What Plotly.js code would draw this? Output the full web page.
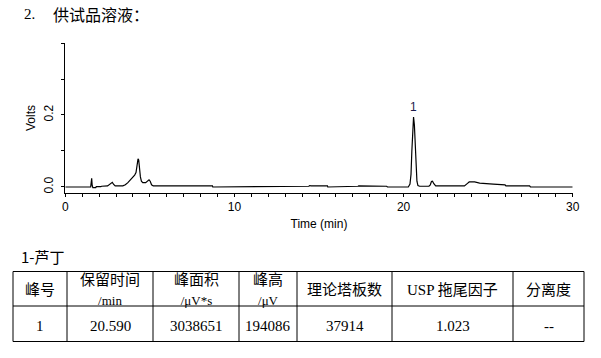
<!DOCTYPE html>
<html><head><meta charset="utf-8">
<script src="https://cdn.plot.ly/plotly-3.0.1.min.js"></script>
<style>html,body{margin:0;padding:0;background:#fff}#chart{width:601px;height:358px}</style>
</head><body><div id="chart"></div>
<script>
// ---- data ----
const timeMin = [0.00,1.50,1.53,1.56,1.59,1.63,1.80,1.83,2.10,2.15,2.50,2.60,2.70,2.78,2.86,2.95,3.40,3.55,3.70,3.85,4.00,4.10,4.18,4.24,4.30,4.34,4.38,4.44,4.50,4.58,4.75,4.85,4.95,5.02,5.10,5.20,
  8.70,8.72,10.40,10.42,10.60,10.62,10.90,10.92,11.20,11.22,12.30,12.32,14.40,14.42,14.45,14.52,15.50,15.52,16.50,16.52,17.30,17.35,17.90,17.95,18.05,18.40,18.45,18.60,18.65,19.00,19.05,19.50,19.55,19.62,19.66,
  20.28,20.38,20.44,20.49,20.54,20.59,20.64,20.69,20.74,20.79,20.85,20.95,21.50,21.58,21.65,21.71,21.79,21.90,23.60,23.70,23.78,23.88,24.20,24.50,24.90,25.30,26.00,26.05,27.45,27.50,30.00];
const volts = [0.000,0.000,0.012,0.024,0.004,-0.002,-0.002,0.001,0.001,0.002,0.003,0.006,0.009,0.013,0.007,0.003,0.003,0.006,0.012,0.020,0.027,0.033,0.040,0.062,0.078,0.075,0.052,0.028,0.016,0.012,0.012,0.015,0.020,0.016,0.006,0.003,
  0.003,0.000,0.000,0.001,0.001,0.000,0.000,0.002,0.002,0.000,0.000,0.002,0.002,0.003,0.004,0.003,0.003,0.000,0.000,0.002,0.002,0.003,0.003,0.004,0.003,0.003,0.004,0.004,0.002,0.002,0.000,0.000,0.002,0.002,0.000,
  0.000,0.008,0.035,0.100,0.165,0.194,0.172,0.115,0.052,0.016,0.004,0.002,0.002,0.006,0.015,0.016,0.009,0.003,0.003,0.006,0.010,0.014,0.014,0.011,0.009,0.008,0.006,0.003,0.003,0.000,0.000];
const peakTimes = [20.59];
const peakHeights = [0.194];
const peakLabels = ['1'];
const xTickVals = [0, 10, 20, 30];
const xTickText = ['0', '10', '20', '30'];
const yTickVals = [0, 0.2, 0.4];
const yTickText = ['0.0', '0.2', ''];
const yMinorTickVals = [0.1, 0.3];
const sectionNumber = '2.';
const sectionTitle = '供试品溶液：';
const compoundName = '1-芦丁';
const tableHeaders = ['峰号', '保留时间', '峰面积', '峰高', '理论塔板数', 'USP 拖尾因子', '分离度'];
const tableUnits = ['', '/min', '/μV*s', '/μV', '', '', ''];
const tableRow = ['1', '20.590', '3038651', '194086', '37914', '1.023', '--'];

// ---- styles / layout sizes ----
const SANS = 'Arial, "Liberation Sans", sans-serif';
const SERIF = '"Times New Roman", "Liberation Serif", "Noto Sans CJK SC", serif';
const CJK = '"Noto Sans CJK SC", sans-serif';
const W = 601, H = 358;
const colWidths = [54, 86, 86, 58, 95, 121, 71];   // table column widths (px)
const rowHeights = [34.5, 35.5];                   // table row heights (px)
const tblLeft = 13, tblTop = 271.5;

// table geometry in table-axis units
const colEdges = [0];
colWidths.forEach(w => colEdges.push(colEdges[colEdges.length - 1] + w));
const rowEdges = [0];
rowHeights.forEach(h => rowEdges.push(rowEdges[rowEdges.length - 1] + h));
const tblW = colEdges[colEdges.length - 1], tblH = rowEdges[rowEdges.length - 1];
const gx = [], gy = [];
colEdges.forEach(x => { gx.push(x, x, null); gy.push(0, tblH, null); });
rowEdges.forEach(y => { gx.push(0, tblW, null); gy.push(y, y, null); });

const traces = [
  {type: 'scatter', mode: 'lines', x: timeMin, y: volts, xaxis: 'x', yaxis: 'y',
   line: {color: '#000', width: 1.2}, hoverinfo: 'skip'},
  {type: 'scatter', mode: 'lines', x: gx, y: gy, xaxis: 'x2', yaxis: 'y2',
   line: {color: '#000', width: 1}, hoverinfo: 'skip', connectgaps: false}
];

const annotations = peakLabels.map((t, i) => ({
  x: peakTimes[i], y: peakHeights[i], xref: 'x', yref: 'y', text: t, showarrow: false,
  yanchor: 'bottom', yshift: 1, font: {family: SANS, size: 12, color: '#1a1a4a'}
}));
annotations.push({xref: 'paper', yref: 'paper', x: 22 / W, y: 1 - 14 / H, xanchor: 'left', yanchor: 'middle',
  text: sectionNumber, showarrow: false, font: {family: SERIF, size: 15, color: '#000'}});
annotations.push({xref: 'paper', yref: 'paper', x: 51 / W, y: 1 - 14 / H, xanchor: 'left', yanchor: 'middle',
  text: sectionTitle, showarrow: false, font: {family: CJK, size: 16, color: '#000'}});
annotations.push({xref: 'paper', yref: 'paper', x: 19 / W, y: 1 - 256 / H, xanchor: 'left', yanchor: 'middle',
  text: compoundName, showarrow: false, font: {family: CJK, size: 15, color: '#000'}});
tableHeaders.forEach((h, i) => {
  const txt = tableUnits[i] ? h + '<br><span style="font-size:13px">' + tableUnits[i] + '</span>' : h;
  annotations.push({xref: 'x2', yref: 'y2', x: (colEdges[i] + colEdges[i + 1]) / 2, y: (rowEdges[0] + rowEdges[1]) / 2,
    text: txt, showarrow: false, xanchor: 'center', yanchor: 'middle', yshift: -1,
    font: {family: SERIF, size: 15, color: '#000'}});
});
tableRow.forEach((v, i) => {
  annotations.push({xref: 'x2', yref: 'y2', x: (colEdges[i] + colEdges[i + 1]) / 2, y: (rowEdges[1] + rowEdges[2]) / 2,
    text: v, showarrow: false, xanchor: 'center', yanchor: 'middle', yshift: -2,
    font: {family: SERIF, size: 15, color: '#000'}});
});

const layout = {
  width: W, height: H, margin: {l: 0, r: 0, t: 0, b: 0},
  paper_bgcolor: '#fff', plot_bgcolor: 'rgba(0,0,0,0)', showlegend: false,
  font: {family: SANS, size: 12, color: '#000'},
  xaxis: {domain: [65.3 / W, 572.7 / W], range: [0, 30], tickmode: 'array', tickvals: xTickVals, ticktext: xTickText,
          ticks: 'outside', ticklen: 3, tickcolor: '#000', showline: true, linecolor: '#000', linewidth: 1,
          showgrid: false, zeroline: false, tickfont: {family: SANS, size: 12, color: '#000'},
          minor: {dtick: 1, tick0: 0, ticks: 'outside', ticklen: 3, tickcolor: '#000', showgrid: false},
          title: {text: 'Time (min)', font: {family: SANS, size: 12, color: '#000'}, standoff: 6}},
  yaxis: {domain: [(H - 193) / H, (H - 43) / H], range: [-0.0167, 0.4], tickmode: 'array', tickvals: yTickVals, ticktext: yTickText,
          tickangle: -90, ticks: 'outside', ticklen: 3, tickcolor: '#000', showline: true, linecolor: '#000', linewidth: 1,
          showgrid: false, zeroline: false, tickfont: {family: SANS, size: 12, color: '#000'}, ticklabelstandoff: 4,
          minor: {tickmode: 'array', tickvals: yMinorTickVals, ticks: 'outside', ticklen: 3, tickcolor: '#000', showgrid: false},
          title: {text: 'Volts', font: {family: SANS, size: 12, color: '#000'}, standoff: 3}},
  xaxis2: {domain: [(tblLeft - 1.5) / W, (tblLeft + tblW + 1.5) / W], range: [-1.5, tblW + 1.5], visible: false, fixedrange: true},
  yaxis2: {domain: [(H - tblTop - tblH - 1.5) / H, (H - tblTop + 1.5) / H], range: [tblH + 1.5, -1.5], visible: false, fixedrange: true},
  annotations: annotations
};

Plotly.newPlot('chart', traces, layout, {staticPlot: true, displayModeBar: false});
</script>
</body></html>
